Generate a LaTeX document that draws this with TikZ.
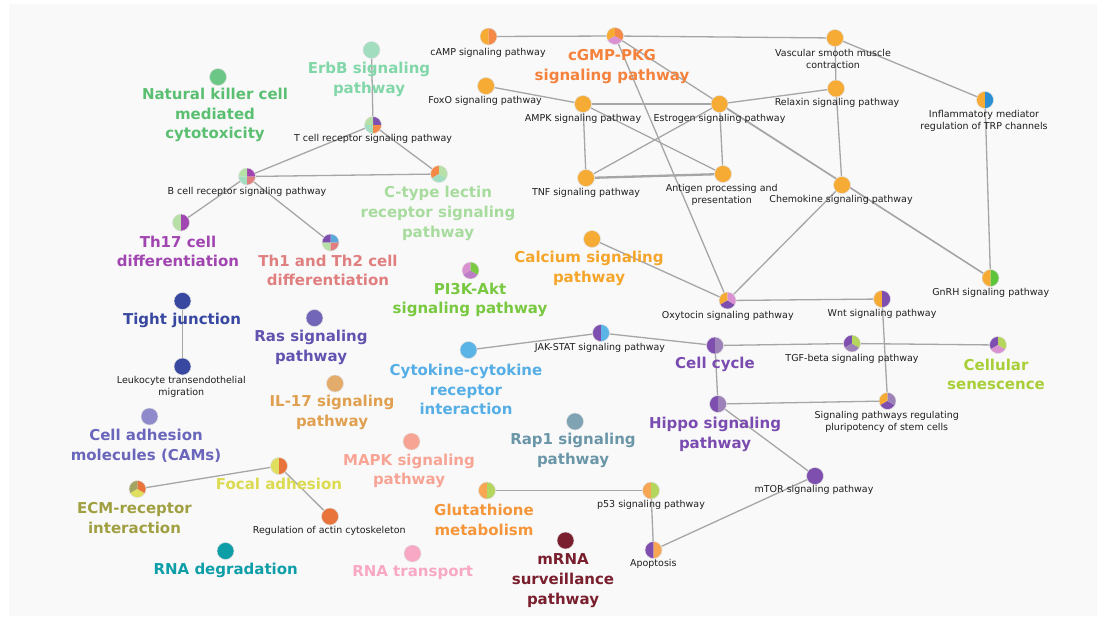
\documentclass[tikz,border=0pt]{standalone}
\usepackage{fontspec}
\setmainfont{DejaVu Sans}
\pgfdeclarelayer{bg}\pgfdeclarelayer{edges}\pgfsetlayers{bg,edges,main}
\definecolor{bgc}{HTML}{F9F9F9}
\definecolor{edgec}{HTML}{A6A6A6}
\definecolor{txt}{HTML}{1E1E1E}
\definecolor{orn}{HTML}{F6AB35}
\definecolor{sal}{HTML}{F58A48}
\definecolor{pnk}{HTML}{D991D2}
\definecolor{pur}{HTML}{7E4FAF}
\definecolor{mpur}{HTML}{9C82B9}
\definecolor{lgr}{HTML}{B7E0A6}
\definecolor{mint}{HTML}{A2DDC0}
\definecolor{ygr}{HTML}{B4D65C}
\definecolor{blu}{HTML}{5AB4E6}
\definecolor{dblu}{HTML}{2B8FD3}
\definecolor{grn}{HTML}{5EC43C}
\definecolor{pgr}{HTML}{7AC943}
\definecolor{th17c}{HTML}{A145B1}
\definecolor{thsal}{HTML}{E07F80}
\definecolor{thblu}{HTML}{5AA8DA}
\definecolor{ylw}{HTML}{E0DE5E}
\definecolor{ored}{HTML}{E8743C}
\definecolor{olv}{HTML}{A4A462}
\definecolor{glor}{HTML}{F7A654}
% text colours
\definecolor{nkc}{HTML}{5BBF72}
\definecolor{nkn}{HTML}{6CC786}
\definecolor{erbc}{HTML}{82D7A9}
\definecolor{ctyc}{HTML}{A8DC9E}
\definecolor{cgmc}{HTML}{F5823C}
\definecolor{calc}{HTML}{F5A52A}
\definecolor{pi3c}{HTML}{78C840}
\definecolor{cytc}{HTML}{55AEE6}
\definecolor{ccyc}{HTML}{7A4CB0}
\definecolor{csnc}{HTML}{A8CF38}
\definecolor{rapc}{HTML}{6A96A8}
\definecolor{rapn}{HTML}{7FA3B2}
\definecolor{gluc}{HTML}{F5963A}
\definecolor{mrnc}{HTML}{7A1F2E}
\definecolor{tjc}{HTML}{3848A0}
\definecolor{rasc}{HTML}{6253B0}
\definecolor{rasn}{HTML}{7166B8}
\definecolor{ilc}{HTML}{E0A050}
\definecolor{ilnc}{HTML}{E3AC6A}
\definecolor{camc}{HTML}{6A66BB}
\definecolor{camn}{HTML}{8E8ACC}
\definecolor{focc}{HTML}{DCDA50}
\definecolor{ecmc}{HTML}{A0A043}
\definecolor{mapc}{HTML}{F8A494}
\definecolor{rndc}{HTML}{0E9EA8}
\definecolor{rntc}{HTML}{F8A8C4}
\tikzset{
  dot/.style={circle,minimum size=17pt,inner sep=0pt,draw=black!12,line width=0.5pt,fill=#1},
  pdot/.style={circle,minimum size=17pt,inner sep=0pt},
  bigl/.style={text=#1,font=\fontsize{15}{19.7}\selectfont\bfseries,align=center,inner sep=0pt},
  smalll/.style={text=txt,font=\fontsize{9.5}{11.7}\selectfont,align=center,inner sep=0pt},
  lnk/.style={draw=edgec,line width=1.3pt},
  thk/.style={draw=edgec,line width=2.3pt},
}
\newcommand{\piewedges}[2]{%
  \foreach \a/\b/\c in {#2}{\fill[fill=\c] (#1.center) -- ++(\a:8.5pt) arc[start angle=\a,end angle=\b,radius=8.5pt] -- cycle;}%
  \draw[black!12,line width=0.5pt] (#1.center) circle[radius=8.5pt];}
\begin{document}
\begin{tikzpicture}[x=1pt,y=-1pt]
\useasboundingbox (0,0) rectangle (1107,622);
\begin{pgfonlayer}{bg}
\fill[bgc] (9,4) rectangle (1097,616);
\end{pgfonlayer}

% ---- plain nodes
\node[dot=nkn] (nk) at (218,77) {};
\node[dot=mint] (erbb) at (371.5,50) {};
\node[dot=orn] (foxo) at (486,86) {};
\node[dot=orn] (vasc) at (835,38) {};
\node[dot=orn] (ampk) at (583,104) {};
\node[dot=orn] (estr) at (719.5,104) {};
\node[dot=orn] (relax) at (836,88.5) {};
\node[dot=orn] (tnf) at (586,178) {};
\node[dot=orn] (antig) at (723,174) {};
\node[dot=orn] (chemo) at (842,185) {};
\node[dot=orn] (calcn) at (592,239) {};
\node[dot=blu] (cyto) at (468.5,350) {};
\node[dot=pur] (mtor) at (815,476) {};
\node[dot=rapn] (rap1) at (575,421.5) {};
\node[dot=mrnc] (mrna) at (565.5,540.5) {};
\node[dot=tjc] (tj) at (182.5,301) {};
\node[dot=tjc] (leuk) at (182.5,366.5) {};
\node[dot=rasn] (ras) at (314.5,318) {};
\node[dot=ilnc] (il17) at (335,383.5) {};
\node[dot=camn] (cam) at (149.5,416.5) {};
\node[dot=ored] (actin) at (330,516.5) {};
\node[dot=mapc] (mapk) at (411.5,441.5) {};
\node[dot=rndc] (rnad) at (225.5,551) {};
\node[dot=rntc] (rnat) at (412.5,553.5) {};

% ---- pie nodes
\node[pdot] (tcr) at (373,125) {};
\piewedges{tcr}{0/90/pur,90/180/lgr,180/270/mint,270/360/sal}
\node[pdot] (bcr) at (247,176.5) {};
\piewedges{bcr}{0/90/th17c,90/180/lgr,180/270/mint,270/360/thsal}
\node[pdot] (ctype) at (439,174) {};
\piewedges{ctype}{90/210/sal,210/330/mint,330/450/lgr}
\node[pdot] (th17) at (181,222.5) {};
\piewedges{th17}{90/270/lgr,270/450/th17c}
\node[pdot] (th12) at (330.5,242.5) {};
\piewedges{th12}{0/90/thblu,90/180/pur,180/270/lgr,270/360/thsal}
\node[pdot] (camp) at (488.5,36.5) {};
\piewedges{camp}{90/270/orn,270/450/sal}
\node[pdot] (cgmp) at (615,36) {};
\piewedges{cgmp}{90/210/orn,210/330/pnk,330/450/sal}
\node[pdot] (infl) at (985,100) {};
\piewedges{infl}{90/270/orn,270/450/dblu}
\node[pdot] (gnrh) at (990.5,278) {};
\piewedges{gnrh}{90/270/orn,270/450/grn}
\node[pdot] (pi3k) at (470.5,270.5) {};
\piewedges{pi3k}{90/210/pnk,210/330/pnk!70!pur,330/450/pgr}
\node[pdot] (oxy) at (727.5,300.5) {};
\piewedges{oxy}{90/210/orn,210/330/pur,330/450/pnk}
\node[pdot] (wnt) at (882,299) {};
\piewedges{wnt}{90/270/orn,270/450/pur}
\node[pdot] (jak) at (601,333) {};
\piewedges{jak}{90/270/pur,270/450/blu}
\node[pdot] (ccyc) at (715,345.5) {};
\piewedges{ccyc}{90/270/pur,270/450/mpur}
\node[pdot] (tgf) at (852,343.5) {};
\piewedges{tgf}{90/210/pur,210/330/mpur,330/450/ygr}
\node[pdot] (csen) at (998,345) {};
\piewedges{csen}{90/210/pur,210/330/pnk,330/450/ygr}
\node[pdot] (hippo) at (718,404) {};
\piewedges{hippo}{90/270/pur,270/450/mpur}
\node[pdot] (plur) at (887.5,401) {};
\piewedges{plur}{90/210/orn,210/330/pur,330/450/mpur}
\node[pdot] (glut) at (487,490.5) {};
\piewedges{glut}{90/270/glor,270/450/ygr}
\node[pdot] (p53) at (651,490.5) {};
\piewedges{p53}{90/270/glor,270/450/ygr}
\node[pdot] (apop) at (653.5,550) {};
\piewedges{apop}{90/270/pur,270/450/glor}
\node[pdot] (focal) at (279,466) {};
\piewedges{focal}{90/270/ylw,270/450/ored}
\node[pdot] (ecm) at (137.5,489) {};
\piewedges{ecm}{90/210/olv,210/330/ylw,330/450/ored}

% ---- edges
\begin{pgfonlayer}{edges}
\draw[lnk] (erbb) -- (tcr);
\draw[lnk] (tcr) -- (bcr);
\draw[lnk] (tcr) -- (ctype);
\draw[lnk] (bcr) -- (ctype);
\draw[lnk] (bcr) -- (th17);
\draw[lnk] (bcr) -- (th12);
\draw[lnk] (camp) -- (cgmp);
\draw[lnk] (cgmp) -- (vasc);
\draw[lnk] (cgmp) -- (gnrh);
\draw[lnk] (estr) -- (gnrh);
\draw[lnk] (cgmp) -- (oxy);
\draw[lnk] (foxo) -- (ampk);
\draw[lnk] (ampk) -- (estr);
\draw[lnk] (estr) -- (relax);
\draw[lnk] (ampk) -- (tnf);
\draw[lnk] (ampk) -- (antig);
\draw[lnk] (estr) -- (tnf);
\draw[lnk] (estr) -- (antig);
\draw[thk] (tnf) -- (antig);
\draw[lnk] (vasc) -- (relax);
\draw[lnk] (vasc) -- (infl);
\draw[lnk] (relax) -- (chemo);
\draw[lnk] (infl) -- (gnrh);
\draw[lnk] (chemo) -- (oxy);
\draw[lnk] (calcn) -- (oxy);
\draw[lnk] (oxy) -- (wnt);
\draw[lnk] (wnt) -- (plur);
\draw[lnk] (jak) -- (cyto);
\draw[lnk] (jak) -- (ccyc);
\draw[lnk] (ccyc) -- (tgf);
\draw[lnk] (tgf) -- (csen);
\draw[lnk] (ccyc) -- (hippo);
\draw[lnk] (hippo) -- (plur);
\draw[lnk] (hippo) -- (mtor);
\draw[lnk] (mtor) -- (apop);
\draw[lnk] (p53) -- (apop);
\draw[lnk] (glut) -- (p53);
\draw[lnk] (tj) -- (leuk);
\draw[lnk] (ecm) -- (focal);
\draw[lnk] (focal) -- (actin);
\end{pgfonlayer}

% ---- big labels
\node[bigl=nkc] (nk-l) at (215,115) {Natural killer cell\\mediated\\cytotoxicity};
\node[bigl=erbc] (erbb-l) at (369,79.3) {ErbB signaling\\pathway};
\node[bigl=ctyc] (ctype-l) at (438,213.3) {C-type lectin\\receptor signaling\\pathway};
\node[bigl=th17c] (th17-l) at (178,251.4) {Th17 cell\\differentiation};
\node[bigl=thsal] (th12-l) at (328,270.4) {Th1 and Th2 cell\\differentiation};
\node[bigl=cgmc] (cgmp-l) at (612,66.4) {cGMP-PKG\\signaling pathway};
\node[bigl=calc] (calc-l) at (589,268.3) {Calcium signaling\\pathway};
\node[bigl=pi3c] (pi3k-l) at (470,300) {PI3K-Akt\\signaling pathway};
\node[bigl=cytc] (cyto-l) at (466,389.5) {Cytokine-cytokine\\receptor\\interaction};
\node[bigl=ccyc] (ccyc-l) at (715,364) {Cell cycle};
\node[bigl=ccyc] (hippo-l) at (715,434.7) {Hippo signaling\\pathway};
\node[bigl=csnc] (csen-l) at (996,374.3) {Cellular\\senescence};
\node[bigl=rapc] (rap1-l) at (573,450.7) {Rap1 signaling\\pathway};
\node[bigl=gluc] (glut-l) at (484,520) {Glutathione\\metabolism};
\node[bigl=mrnc] (mrna-l) at (563,580.5) {mRNA\\surveillance\\pathway};
\node[bigl=tjc] (tj-l) at (182,320) {Tight junction};
\node[bigl=rasc] (ras-l) at (311,347.5) {Ras signaling\\pathway};
\node[bigl=ilc] (il17-l) at (332,412.5) {IL-17 signaling\\pathway};
\node[bigl=camc] (cam-l) at (146,445.5) {Cell adhesion\\molecules (CAMs)};
\node[bigl=focc] (focal-l) at (279,484.3) {Focal adhesion};
\node[bigl=ecmc] (ecm-l) at (134.5,518) {ECM-receptor\\interaction};
\node[bigl=mapc] (mapk-l) at (409,471) {MAPK signaling\\pathway};
\node[bigl=rndc] (rnad-l) at (225.7,570) {RNA degradation};
\node[bigl=rntc] (rnat-l) at (412.7,572.3) {RNA transport};

% ---- small labels
\node[smalll] (tcr-l) at (373,139.3) {T cell receptor signaling pathway};
\node[smalll] (bcr-l) at (247,192.3) {B cell receptor signaling pathway};
\node[smalll] (camp-l) at (488,52.5) {cAMP signaling pathway};
\node[smalll] (foxo-l) at (485,100.7) {FoxO signaling pathway};
\node[smalll] (ampk-l) at (583,119.3) {AMPK signaling pathway};
\node[smalll] (estr-l) at (719.5,119.3) {Estrogen signaling pathway};
\node[smalll] (vasc-l) at (833,59.2) {Vascular smooth muscle\\contraction};
\node[smalll] (relax-l) at (837,102.7) {Relaxin signaling pathway};
\node[smalll] (infl-l) at (984,120.8) {Inflammatory mediator\\regulation of TRP channels};
\node[smalll] (tnf-l) at (586,193.3) {TNF signaling pathway};
\node[smalll] (antig-l) at (721.7,194.7) {Antigen processing and\\presentation};
\node[smalll] (chemo-l) at (841,200) {Chemokine signaling pathway};
\node[smalll] (gnrh-l) at (990.7,292.7) {GnRH signaling pathway};
\node[smalll] (oxy-l) at (727.7,316) {Oxytocin signaling pathway};
\node[smalll] (wnt-l) at (882,314) {Wnt signaling pathway};
\node[smalll] (jak-l) at (600,347.7) {JAK-STAT signaling pathway};
\node[smalll] (tgf-l) at (852,359) {TGF-beta signaling pathway};
\node[smalll] (plur-l) at (886.7,422) {Signaling pathways regulating\\pluripotency of stem cells};
\node[smalll] (mtor-l) at (814,490) {mTOR signaling pathway};
\node[smalll] (p53-l) at (651,505.3) {p53 signaling pathway};
\node[smalll] (apop-l) at (653.3,564.3) {Apoptosis};
\node[smalll] (leuk-l) at (181.3,386.8) {Leukocyte transendothelial\\migration};
\node[smalll] (actin-l) at (329.3,531) {Regulation of actin cytoskeleton};
\end{tikzpicture}
\end{document}
